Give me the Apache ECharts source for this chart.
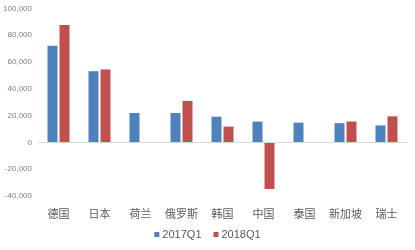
<!DOCTYPE html>
<html><head><meta charset="utf-8">
<script src="https://cdn.jsdelivr.net/npm/echarts@6/dist/echarts.min.js"></script>
<style>html,body{margin:0;padding:0;background:#fff}#c{width:415px;height:250px}</style>
</head><body><div id="c"></div>
<script>
const categories = ['德国','日本','荷兰','俄罗斯','韩国','中国','泰国','新加坡','瑞士'];
const seriesNames = ['2017Q1','2018Q1'];
const values2017 = [72100, 53200, 22000, 22000, 19200, 15500, 14800, 14400, 12700];
const values2018 = [87600, 54500, null, 31000, 11800, -34700, null, 15600, 19500];
const yTicks = [-40000, -20000, 0, 20000, 40000, 60000, 80000, 100000];

const chart = echarts.init(document.getElementById('c'));
chart.setOption({
  animation: false,
  grid: {left: 38, right: 8, top: 8.5, bottom: 54},
  legend: {
    bottom: 5, left: 'center', itemWidth: 5, itemHeight: 5, itemGap: 12,
    icon: 'rect',
    textStyle: {color: '#595959', fontSize: 11, fontFamily: 'Liberation Sans', padding: [0, 0, 0, -2]},
    data: seriesNames
  },
  xAxis: {
    type: 'category', data: categories,
    axisLine: {show: false}, axisTick: {show: false},
    axisLabel: {color: '#595959', fontSize: 11, fontFamily: 'Noto Sans CJK SC', margin: 12,
      interval: 0, hideOverlap: false}
  },
  yAxis: {
    type: 'value', min: yTicks[0], max: yTicks[yTicks.length-1], interval: 20000,
    axisLine: {show: false}, axisTick: {show: false},
    splitLine: {show: false},
    axisLabel: {color: '#7f7f7f', fontSize: 8, fontFamily: 'Liberation Sans', margin: 6,
      formatter: v => v.toLocaleString('en-US')}
  },
  series: [
    {name: seriesNames[0], type: 'bar', data: values2017, barWidth: 10, barGap: '20%',
      itemStyle: {color: '#4F81BD'},
      markLine: {silent: true, symbol: 'none', label: {show: false},
        lineStyle: {color: '#d9d9d9', type: 'solid', width: 1}, data: [{yAxis: 0}]}},
    {name: seriesNames[1], type: 'bar', data: values2018, barWidth: 10,
      itemStyle: {color: '#C0504D'}}
  ]
});
</script></body></html>
